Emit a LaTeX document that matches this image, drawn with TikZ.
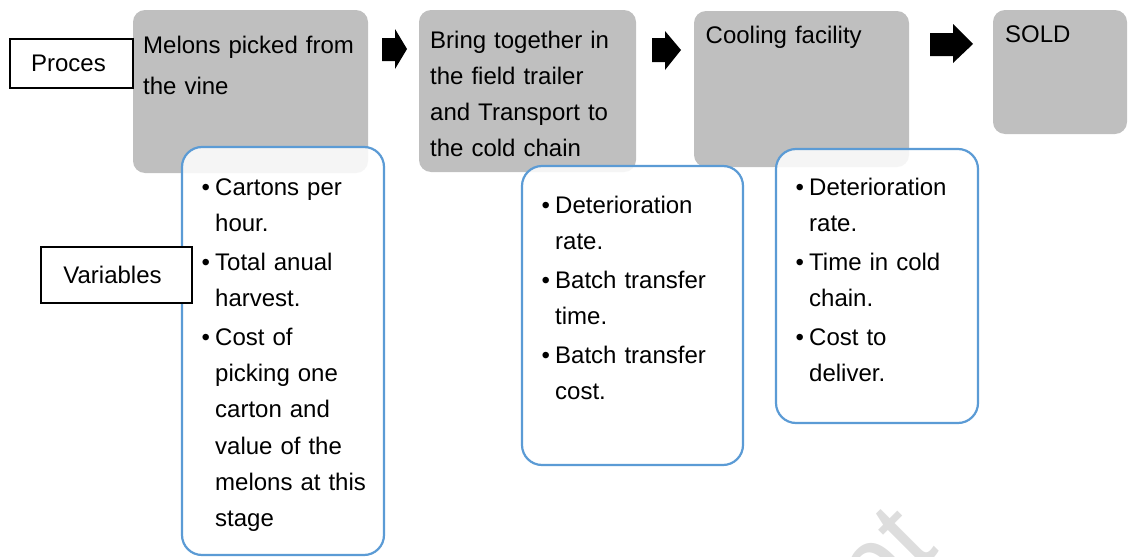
\documentclass[tikz,border=0pt]{standalone}
\usepackage{fontspec}
\setmainfont{Liberation Sans}
\definecolor{gfill}{HTML}{BFBFBF}
\definecolor{bline}{HTML}{5B9BD5}
\definecolor{wmark}{HTML}{DDDDDD}
\tikzset{
  gbox/.style={draw=none, fill=gfill, rounded corners=12pt, inner sep=0pt},
  varbox/.style={draw=bline, line width=2.2pt, fill=white, fill opacity=0.85, rounded corners=20pt, inner sep=0pt},
  labbox/.style={draw=black, line width=1.4pt, fill=white, inner sep=0pt, font=\fontsize{24}{29}\selectfont},
  txt/.style={anchor=base west, inner sep=0pt, text width=260pt, align=left},
  blockarrow/.style={fill=black, draw=none},
}
\newcommand{\bul}{\makebox[13.5pt][l]{•}}
\newcommand{\ind}{\hspace*{13.5pt}}
\begin{document}
\begin{tikzpicture}[x=1pt,y=-1pt]
\useasboundingbox (0,0) rectangle (1128,557);
% watermark fragment
\begin{scope}
\clip (0,0) rectangle (1128,557);
\node[rotate=45, anchor=base east, inner sep=0pt, text=wmark, font=\fontsize{110}{110}\selectfont] (wm) at (940,551) {pt};
\end{scope}
% process boxes
\node[gbox, minimum width=235pt, minimum height=163pt] (g1) at (250.5,91.5) {};
\node[gbox, minimum width=217pt, minimum height=162pt] (g2) at (527.5,91) {};
\node[gbox, minimum width=215pt, minimum height=156pt] (g3) at (801.5,89) {};
\node[gbox, minimum width=134pt, minimum height=124pt] (g4) at (1060,72) {};
\node[txt, font=\fontsize{24}{41}\selectfont] (t1) at (143,53) {Melons picked from\\the vine};
\node[txt, font=\fontsize{24}{36}\selectfont] (t2) at (430,48) {Bring together in\\the field trailer\\and Transport to\\the cold chain};
\node[txt, font=\fontsize{24}{36}\selectfont] (t3) at (705.5,43) {Cooling facility};
\node[txt, font=\fontsize{24}{36}\selectfont] (t4) at (1005,42) {SOLD};
% block arrows
\fill[blockarrow] (382,38) -- (395,38) -- (395,29) -- (407,49) -- (395,69) -- (395,61) -- (382,61) -- cycle;
\fill[blockarrow] (652,38) -- (665,38) -- (665,31) -- (681,50) -- (665,70) -- (665,62) -- (652,62) -- cycle;
\fill[blockarrow] (930,33) -- (953,33) -- (953,24) -- (973,44) -- (953,63) -- (953,56) -- (930,56) -- cycle;
% variable boxes
\node[varbox, minimum width=202pt, minimum height=408pt] (v1) at (283,351) {};
\node[varbox, minimum width=221pt, minimum height=299pt] (v2) at (632.5,315.5) {};
\node[varbox, minimum width=202pt, minimum height=274pt] (v3) at (877,286) {};
\node[txt, font=\fontsize{24}{36.3}\selectfont] (l1) at (201.5,195) {\bul Cartons per\\\ind hour.\\[2.5pt]\bul Total anual\\\ind harvest.\\[2.5pt]\bul Cost of\\\ind picking one\\\ind carton and\\\ind value of the\\\ind melons at this\\\ind stage};
\node[txt, font=\fontsize{24}{36.3}\selectfont] (l2) at (541.5,213) {\bul Deterioration\\\ind rate.\\[2.5pt]\bul Batch transfer\\\ind time.\\[2.5pt]\bul Batch transfer\\\ind cost.};
\node[txt, font=\fontsize{24}{36.3}\selectfont] (l3) at (795.5,195) {\bul Deterioration\\\ind rate.\\[2.5pt]\bul Time in cold\\\ind chain.\\[2.5pt]\bul Cost to\\\ind deliver.};
% row labels
\node[labbox, minimum width=123pt, minimum height=49pt] (proc) at (71.5,63.5) {\hspace*{-6pt}Proces};
\node[labbox, minimum width=151pt, minimum height=56pt] (vars) at (116.5,275) {\hspace*{-8pt}Variables};
\end{tikzpicture}
\end{document}
